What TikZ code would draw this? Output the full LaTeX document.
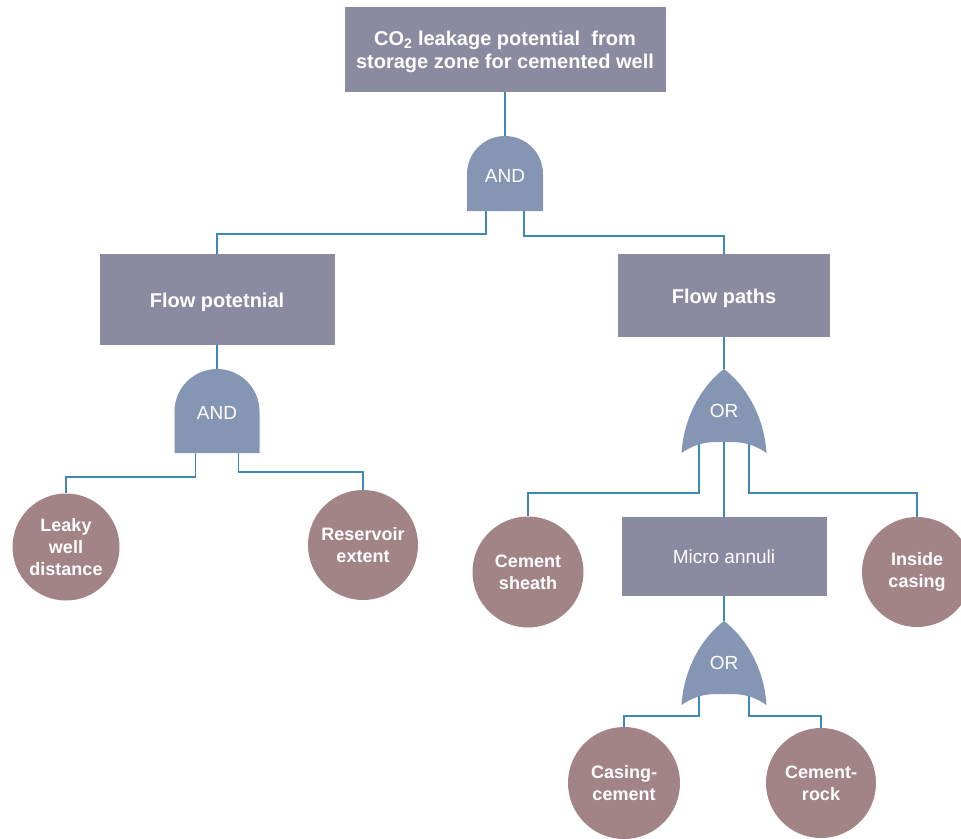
\documentclass[tikz,border=0pt]{standalone}
\usepackage{fontspec}
\setmainfont{Liberation Sans}
\definecolor{boxfill}{HTML}{8A8AA0}
\definecolor{gatefill}{HTML}{8596B5}
\definecolor{leaffill}{HTML}{A28386}
\definecolor{linecol}{HTML}{3F87B5}
\pgfdeclarelayer{bg}
\pgfsetlayers{bg,main}
% text set 3pt lower while keeping its box size, so the node stays centred
\newcommand{\lowered}[1]{\raisebox{-3pt}[\height][\depth]{\begin{tabular}{@{}c@{}}#1\end{tabular}}}
\begin{document}
\begin{tikzpicture}[x=1pt,y=1pt,
  box/.style={rectangle, fill=boxfill, inner sep=0pt, text=white, align=center},
  boldbox/.style={box, font=\bfseries\fontsize{20}{23}\selectfont},
  leaf/.style={circle, fill=leaffill, minimum size=110pt, inner sep=0pt,
    text=white, align=center, font=\bfseries\fontsize{18}{22}\selectfont},
  conn/.style={draw=linecol, line width=1.3pt},
  gatetext/.style={text=white, font=\fontsize{19}{22}\selectfont, inner sep=0pt},
  % AND gate: #1 = width, #2 = height; origin at the top of the dome
  pics/andgate/.style 2 args={code={
    \fill[gatefill] (-#1/2,-#2) -- (-#1/2,-#1/2)
      arc[start angle=180, end angle=0, radius=#1/2] -- (#1/2,-#2) -- cycle;
    \node[gatetext] (-label) at (0,-#2/2-2) {AND};
    \coordinate (-top) at (0,0);
    \coordinate (-l) at (-#1/4,-#2);
    \coordinate (-r) at (#1/4,-#2);
  }},
  % OR gate: origin at the tip
  pics/orgate/.style={code={
    \fill[gatefill] (0,0) .. controls (20,-15) and (40,-45) .. (42.5,-84)
      .. controls (25,-72) and (12,-73) .. (0,-73)
      .. controls (-12,-73) and (-25,-72) .. (-42.5,-84)
      .. controls (-40,-45) and (-20,-15) .. (0,0) -- cycle;
    \node[gatetext] (-label) at (0,-42) {OR};
    \coordinate (-top) at (0,0);
    \coordinate (-l) at (-25,-70);
    \coordinate (-m) at (0,-70);
    \coordinate (-r) at (25,-70);
  }}
]
\useasboundingbox (0,0) rectangle (961,-838);

% events
\node[boldbox, minimum width=321pt, minimum height=85pt] (top) at (505,-49.5)
  {\lowered{CO\textsubscript{2} leakage potential\ \ from\\storage zone for cemented well}};
\node[boldbox, minimum width=235pt, minimum height=91pt] (fpot) at (217,-299.5)
  {\lowered{Flow potetnial}};
\node[boldbox, minimum width=212pt, minimum height=83pt] (fpath) at (724,-295.5)
  {\lowered{Flow paths}};
\node[box, minimum width=205pt, minimum height=79pt, font=\fontsize{19}{22}\selectfont]
  (micro) at (724,-556.5) {Micro annuli};

% basic events
\node[leaf, minimum size=107pt] (leaky) at (66,-547) {Leaky\\well\\distance};
\node[leaf] (res) at (363,-545) {Reservoir\\extent};
\node[leaf, minimum size=111pt] (sheath) at (528,-572) {Cement\\sheath};
\node[leaf] (inside) at (917,-572) {Inside\\casing};
\node[leaf, minimum size=112pt] (casing) at (624,-783) {Casing-\\cement};
\node[leaf] (rock) at (821,-783) {Cement-\\rock};

% gates
\pic (g1) at (505,-136) {andgate={76}{75}};
\pic (g2) at (217,-369) {andgate={85}{84}};
\pic (g3) at (724,-369) {orgate};
\pic (g4) at (724,-621) {orgate};

% connectors
\begin{pgfonlayer}{bg}
\draw[conn] (top.south) -- (g1-top);
\draw[conn] (g1-l) -- ++(0,-23) -| (fpot.north);
\draw[conn] (g1-r) -- ++(0,-25) -| (fpath.north);

\draw[conn] (fpot.south) -- (g2-top);
\draw[conn] (g2-l) -- ++(0,-24) -| (leaky.north);
\draw[conn] (g2-r) -- ++(0,-19) -| (res.north);

\draw[conn] (fpath.south) -- (g3-top);
\draw[conn] (g3-l) -- ++(0,-54) -| (sheath.north);
\draw[conn] (g3-m) -- (micro.north);
\draw[conn] (g3-r) -- ++(0,-54) -| (inside.north);

\draw[conn] (micro.south) -- (g4-top);
\draw[conn] (g4-l) -- ++(0,-25) -| (casing.north);
\draw[conn] (g4-r) -- ++(0,-25) -| (rock.north);
\end{pgfonlayer}
\end{tikzpicture}
\end{document}
